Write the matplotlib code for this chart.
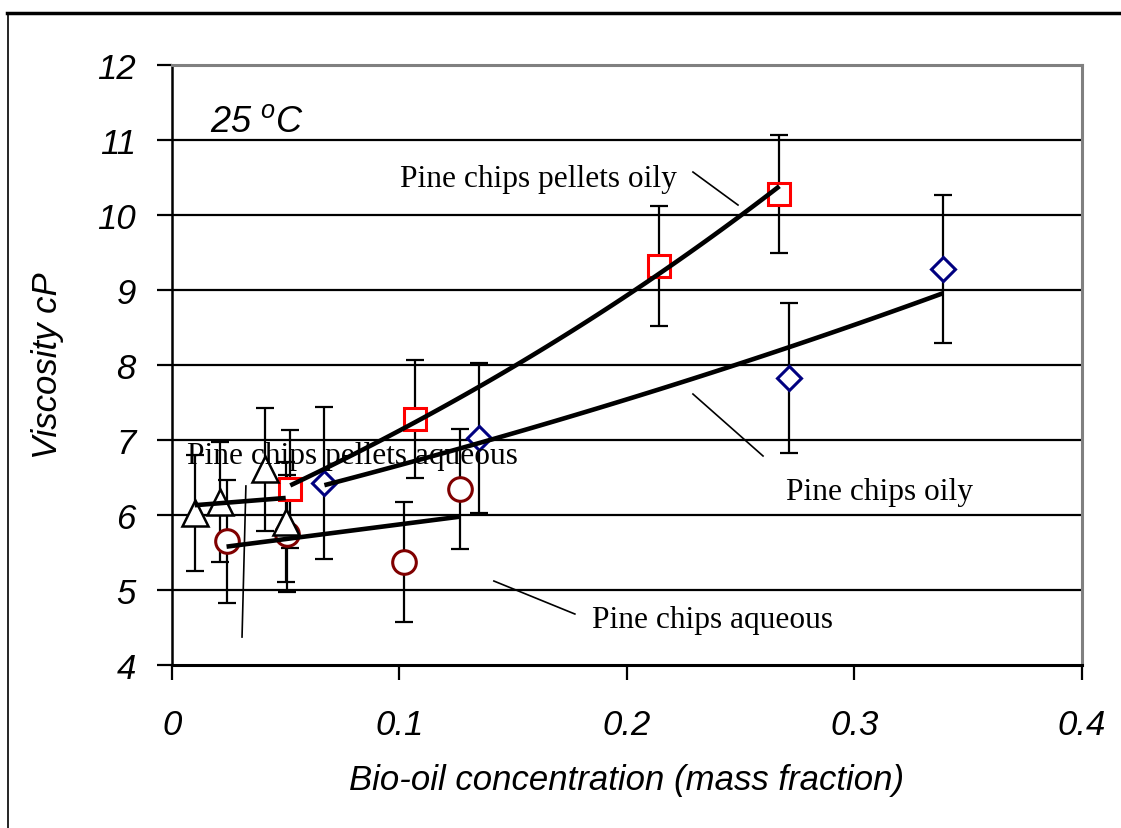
import numpy as np
import matplotlib
matplotlib.use("Agg")
import matplotlib.pyplot as plt
from matplotlib.lines import Line2D

plt.rcParams["font.family"] = ["Liberation Sans", "DejaVu Sans"]
plt.rcParams["mathtext.fontset"] = "custom"
plt.rcParams["mathtext.it"] = "Liberation Sans:italic"
plt.rcParams["mathtext.rm"] = "Liberation Sans:italic"

# Pine chips pellets oily (red squares)
pellets_oily_x = [0.052, 0.107, 0.214, 0.267]
pellets_oily_y = [6.35, 7.28, 9.32, 10.28]
pellets_oily_err = [0.79, 0.79, 0.80, 0.79]

# Pine chips oily (blue diamonds)
chips_oily_x = [0.067, 0.135, 0.271, 0.339]
chips_oily_y = [6.43, 7.03, 7.83, 9.28]
chips_oily_err = [1.01, 1.0, 1.0, 0.99]

# Pine chips aqueous (dark red circles)
chips_aq_x = [0.024, 0.0505, 0.102, 0.1265]
chips_aq_y = [5.65, 5.75, 5.37, 6.35]
chips_aq_err = [0.82, 0.78, 0.80, 0.80]

# Pine chips pellets aqueous (black triangles)
pellets_aq_x = [0.010, 0.021, 0.041, 0.050]
pellets_aq_y = [6.03, 6.17, 6.61, 5.91]
pellets_aq_err = [0.77, 0.80, 0.82, 0.80]

fig = plt.figure(figsize=(11.21, 8.29), dpi=100)
ax = fig.add_axes([0.1534, 0.1966, 0.8118, 0.7238])

# page frame lines (left and top)
fig.add_artist(Line2D([0.007, 0.007], [0.0, 0.983], color="black", lw=1.2))
fig.add_artist(Line2D([0.006, 1.0], [0.983, 0.983], color="black", lw=2.5))

for yy in range(5, 12):
    ax.axhline(yy, color="black", lw=1.6, zorder=1)

err_kw = dict(fmt="none", ecolor="black", elinewidth=1.6, capsize=6.2, capthick=1.6, zorder=2)
ax.errorbar(pellets_oily_x, pellets_oily_y, yerr=pellets_oily_err, **err_kw)
ax.errorbar(chips_oily_x, chips_oily_y, yerr=chips_oily_err, **err_kw)
ax.errorbar(chips_aq_x, chips_aq_y, yerr=chips_aq_err, **err_kw)
ax.errorbar(pellets_aq_x, pellets_aq_y, yerr=pellets_aq_err, **err_kw)

ax.plot(chips_aq_x, chips_aq_y, "o", ms=17, mfc="white", mec="#800000", mew=2.2, ls="none", zorder=3)
ax.plot(pellets_aq_x, pellets_aq_y, "^", ms=19, mfc="white", mec="black", mew=1.8, ls="none", zorder=4)
ax.plot(pellets_oily_x, pellets_oily_y, "s", ms=16.5, mfc="white", mec="#FF0000", mew=2.2, ls="none", zorder=3)
ax.plot(chips_oily_x, chips_oily_y, "D", ms=12.5, mfc="white", mec="#000080", mew=2.2, ls="none", zorder=3)

# trend lines fitted to each series
def trend(x, y, expo):
    x = np.array(x)
    y = np.array(y)
    xs = np.linspace(x.min(), x.max(), 60)
    if expo:
        b, a = np.polyfit(x, np.log(y), 1)
        ys = np.exp(a + b * xs)
    else:
        m, c = np.polyfit(x, y, 1)
        ys = c + m * xs
    ax.plot(xs, ys, color="black", lw=3.3, zorder=5, solid_capstyle="butt")

trend(pellets_oily_x, pellets_oily_y, True)
trend(chips_oily_x, chips_oily_y, True)
trend(chips_aq_x, chips_aq_y, False)
trend(pellets_aq_x, pellets_aq_y, False)

serif = ["Liberation Serif", "DejaVu Serif"]
ax.text(0.1002, 10.48, "Pine chips pellets oily", family=serif, fontsize=22.6, va="center", zorder=6)
ax.text(0.270, 6.31, "Pine chips oily", family=serif, fontsize=22.6, va="center", zorder=6)
ax.text(0.1846, 4.61, "Pine chips aqueous", family=serif, fontsize=22.6, va="center", zorder=6)
ax.text(0.0066, 6.80, "Pine chips pellets aqueous", family=serif, fontsize=22.6, va="center", zorder=6)

ax.plot([0.229, 0.2488], [10.573, 10.133], color="black", lw=1.2, zorder=6)
ax.plot([0.229, 0.2598], [7.613, 6.787], color="black", lw=1.2, zorder=6)
ax.plot([0.1415, 0.1771], [5.12, 4.68], color="black", lw=1.2, zorder=6)
ax.plot([0.0325, 0.0308], [6.387, 4.373], color="black", lw=1.2, zorder=6)

ax.text(0.0165, 11.25, "25 $^{o}$C", fontsize=26, style="italic", va="center")

ax.set_xlim(0, 0.4)
ax.set_ylim(4, 12)
ax.set_xticks([0, 0.1, 0.2, 0.3, 0.4])
ax.set_xticklabels(["0", "0.1", "0.2", "0.3", "0.4"])
ax.set_yticks(range(4, 13))
ax.tick_params(axis="both", direction="out", length=11, width=1.6, labelsize=25, color="black")
ax.tick_params(axis="x", pad=20)
ax.tick_params(axis="y", pad=15)
for lab in ax.get_xticklabels() + ax.get_yticklabels():
    lab.set_style("italic")

ax.spines["left"].set_linewidth(1.8)
ax.spines["bottom"].set_linewidth(2.2)
ax.spines["top"].set_color("#808080")
ax.spines["right"].set_color("#808080")
ax.spines["top"].set_linewidth(2.2)
ax.spines["right"].set_linewidth(2.2)

ax.set_xlabel("Bio-oil concentration (mass fraction)", fontsize=25, style="italic", labelpad=16)
ax.set_ylabel("Viscosity cP", fontsize=25, style="italic", labelpad=24)

plt.savefig("out.png", dpi=100)
